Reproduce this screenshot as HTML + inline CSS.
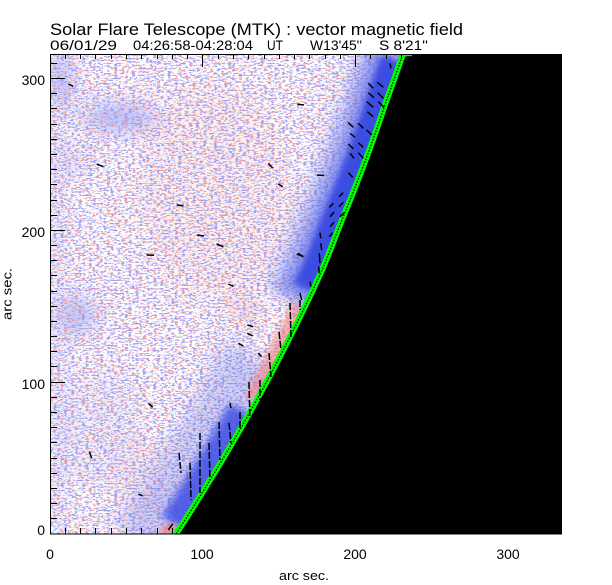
<!DOCTYPE html>
<html><head><meta charset="utf-8"><style>
html,body{margin:0;padding:0;background:#fff;}
svg{display:block;}
text{font-family:"Liberation Sans",sans-serif;fill:#000;}
</style></head><body>
<svg width="612" height="585" viewBox="0 0 612 585" xmlns="http://www.w3.org/2000/svg">
<defs>
 <clipPath id="pa"><rect x="50" y="54" width="512" height="480"/></clipPath>
 <filter id="spB" filterUnits="userSpaceOnUse" x="50" y="54" width="512" height="480" color-interpolation-filters="sRGB">
  <feTurbulence type="fractalNoise" baseFrequency="0.28 0.6" numOctaves="2" seed="11"/>
  <feColorMatrix type="matrix" values="0 0 0 0 0.61  0 0 0 0 0.63  0 0 0 0 0.96  10 0 0 0 -5.3"/>
 </filter>
 <filter id="spR" filterUnits="userSpaceOnUse" x="50" y="54" width="512" height="480" color-interpolation-filters="sRGB">
  <feTurbulence type="fractalNoise" baseFrequency="0.28 0.6" numOctaves="2" seed="29"/>
  <feColorMatrix type="matrix" values="0 0 0 0 0.96  0 0 0 0 0.62  0 0 0 0 0.62  0 10 0 0 -5.9"/>
 </filter>
 <filter id="b2" filterUnits="userSpaceOnUse" x="0" y="0" width="612" height="585"><feGaussianBlur stdDeviation="2"/></filter>
 <filter id="b3" filterUnits="userSpaceOnUse" x="0" y="0" width="612" height="585"><feGaussianBlur stdDeviation="3"/></filter>
 <filter id="b4" filterUnits="userSpaceOnUse" x="0" y="0" width="612" height="585"><feGaussianBlur stdDeviation="4"/></filter>
 <filter id="b6" filterUnits="userSpaceOnUse" x="0" y="0" width="612" height="585"><feGaussianBlur stdDeviation="6"/></filter>
 <filter id="b8" filterUnits="userSpaceOnUse" x="0" y="0" width="612" height="585"><feGaussianBlur stdDeviation="8"/></filter>
 <filter id="b10" filterUnits="userSpaceOnUse" x="0" y="0" width="612" height="585"><feGaussianBlur stdDeviation="10"/></filter>
</defs>

<g clip-path="url(#pa)">
 <rect x="50" y="54" width="512" height="480" fill="#fff"/>
 <g filter="url(#b10)">
  <rect x="50" y="54" width="14" height="480" fill="#8088f0" opacity="0.25"/>
  <ellipse cx="120" cy="118" rx="38" ry="16" fill="#6c78f0" opacity="0.45"/>
  <ellipse cx="62" cy="80" rx="14" ry="30" fill="#6c78f0" opacity="0.35"/>
  <ellipse cx="78" cy="316" rx="20" ry="20" fill="#6c78f0" opacity="0.4"/>
  <ellipse cx="78" cy="160" rx="22" ry="12" fill="#6c78f0" opacity="0.2"/>
  <ellipse cx="215" cy="190" rx="75" ry="110" fill="#f09090" opacity="0.12"/>
  <ellipse cx="245" cy="310" rx="16" ry="14" fill="#f08080" opacity="0.3"/>
  <ellipse cx="140" cy="480" rx="25" ry="45" fill="#f09090" opacity="0.12"/>
  <ellipse cx="100" cy="430" rx="40" ry="60" fill="#8088f0" opacity="0.12"/>
 </g>
 <rect x="50" y="54" width="512" height="480" fill="#fff" filter="url(#spB)"/>
 <rect x="50" y="54" width="512" height="480" fill="#fff" filter="url(#spR)"/>

 <!-- limb bands -->
 <path d="M275,366 L262.2,390 L248.9,414 L235.2,438 L221,462 L206.4,486 L191.4,510 L176,534 L160,558" fill="none" stroke="#7080ee" stroke-width="110" opacity="0.35" filter="url(#b10)"/>
 <path d="M248.9,414 L235.2,438 L221,462 L206.4,486 L191.4,510 L180,528" fill="none" stroke="#3f50e4" stroke-width="44" opacity="0.85" filter="url(#b4)"/>
 <ellipse cx="170" cy="531" rx="10" ry="7" fill="#f08080" opacity="0.7" filter="url(#b2)"/>
 <path d="M305,306 L299.4,318 L287.4,342 L275,366 L262.2,390 L256,402" fill="none" stroke="#f08888" stroke-width="26" opacity="0.65" filter="url(#b3)"/>
 <path d="M403,54 L394.6,78 L385.9,102 L377.8,126 L369.3,150 L360.3,174 L350.9,198 L341.1,222 L331.8,246 L322.1,270 L311,294 L305,306" fill="none" stroke="#7080ee" stroke-width="90" opacity="0.35" filter="url(#b8)"/>
 <path d="M403,54 L394.6,78 L385.9,102 L377.8,126 L369.3,150 L360.3,174 L350.9,198 L341.1,222 L331.8,246 L322.1,270 L311,294 L306,304" fill="none" stroke="#5a68ea" stroke-width="64" opacity="0.55" filter="url(#b6)"/>
 <path d="M400,62 L394.6,78 L385.9,102 L377.8,126 L369.3,150 L360.3,174 L350.9,198 L341.1,222 L331.8,246 L322.1,270 L312,292" fill="none" stroke="#3848e0" stroke-width="40" opacity="0.95" filter="url(#b3)"/>

 <!-- black disk-off region -->
 <path d="M403,54 L394.6,78 L385.9,102 L377.8,126 L369.3,150 L360.3,174 L350.9,198 L341.1,222 L331.8,246 L322.1,270 L311,294 L299.4,318 L287.4,342 L275,366 L262.2,390 L248.9,414 L235.2,438 L221,462 L206.4,486 L191.4,510 L176,534 L562,534 L562,54 Z" fill="#000"/>
 <!-- green limb -->
 <path d="M403,54 L394.6,78 L385.9,102 L377.8,126 L369.3,150 L360.3,174 L350.9,198 L341.1,222 L331.8,246 L322.1,270 L311,294 L299.4,318 L287.4,342 L275,366 L262.2,390 L248.9,414 L235.2,438 L221,462 L206.4,486 L191.4,510 L176,534" fill="none" stroke="#00ff00" stroke-width="6"/>
 <path d="M403,54 L394.6,78 L385.9,102 L377.8,126 L369.3,150 L360.3,174 L350.9,198 L341.1,222 L331.8,246 L322.1,270 L311,294 L299.4,318 L287.4,342 L275,366 L262.2,390 L248.9,414 L235.2,438 L221,462 L206.4,486 L191.4,510 L176,534" fill="none" stroke="#000" stroke-width="1.2" stroke-dasharray="1.5 1.5"/>
 <path d="M401,57 Q404,54.5 412,55" fill="none" stroke="#00ff00" stroke-width="2.5"/>

 <!-- vectors -->
 <g stroke="#000" stroke-width="1.5" fill="none">
  <line x1="368.3" y1="83.3" x2="373.3" y2="88.3"/>
  <line x1="377.3" y1="82.3" x2="383.3" y2="87.3"/>
  <line x1="368.3" y1="92.7" x2="374" y2="97.7"/>
  <line x1="377.7" y1="92.7" x2="383.3" y2="98.3"/>
  <line x1="366.7" y1="101.7" x2="373.3" y2="107.3"/>
  <line x1="378.3" y1="101.7" x2="384" y2="107.3"/>
  <line x1="367.3" y1="111.7" x2="373.3" y2="116.7"/>
  <line x1="348.3" y1="122.7" x2="353.3" y2="127.3"/>
  <line x1="358.3" y1="123.3" x2="363.3" y2="128.3"/>
  <line x1="366.7" y1="130" x2="371.7" y2="135"/>
  <line x1="350" y1="133.3" x2="355" y2="137.3"/>
  <line x1="358.3" y1="142.7" x2="363.3" y2="147.3"/>
  <line x1="348.3" y1="144" x2="353.3" y2="148.7"/>
  <line x1="350" y1="153.3" x2="354" y2="158.3"/>
  <line x1="358.3" y1="152.7" x2="363.3" y2="158.3"/>
  <line x1="348.3" y1="172.7" x2="352.7" y2="177.3"/>
  <line x1="317" y1="175" x2="324" y2="175.5"/>
  <line x1="339" y1="196.7" x2="343.3" y2="192.7"/>
  <line x1="329.3" y1="207.3" x2="333.3" y2="203.3"/>
  <line x1="339" y1="206.7" x2="343.3" y2="202.3"/>
  <line x1="330" y1="216.7" x2="334" y2="212.3"/>
  <line x1="340" y1="216.7" x2="344" y2="212.7"/>
  <line x1="330" y1="226.7" x2="334" y2="222.3"/>
  <line x1="329.3" y1="236.7" x2="332.7" y2="232.7"/>
  <line x1="320" y1="232.7" x2="320.7" y2="238.3"/>
  <line x1="320.7" y1="243.3" x2="321.7" y2="250"/>
  <line x1="319.3" y1="253.3" x2="320" y2="263.3"/>
  <line x1="318.7" y1="266.7" x2="319.3" y2="273.3"/>
  <line x1="310" y1="281.7" x2="311" y2="286.7"/>
  <line x1="298.3" y1="253.3" x2="303.3" y2="256.7"/>
  <line x1="300" y1="293" x2="301.7" y2="300"/>
  <line x1="390" y1="63.3" x2="391" y2="68.3"/>
  <line x1="297.3" y1="104.3" x2="304" y2="105"/>
  <line x1="68.3" y1="84" x2="73.3" y2="86.3"/>
  <line x1="96.7" y1="164" x2="103.3" y2="166.7"/>
  <line x1="268.3" y1="163.3" x2="272.7" y2="168"/>
  <line x1="278.3" y1="184" x2="282.7" y2="186.7"/>
  <line x1="176.7" y1="205" x2="183.3" y2="205.7"/>
  <line x1="197.3" y1="235" x2="204" y2="236"/>
  <line x1="216.7" y1="244" x2="223.3" y2="246.7"/>
  <line x1="146.7" y1="255" x2="154" y2="255.3"/>
  <line x1="296.7" y1="254" x2="303.3" y2="256.7"/>
  <line x1="228.3" y1="284" x2="233.3" y2="286.3"/>
  <line x1="238.3" y1="343.3" x2="243.3" y2="346"/>
  <line x1="247.3" y1="325" x2="253.3" y2="326.7"/>
  <line x1="247.3" y1="333.3" x2="252.7" y2="336"/>
  <line x1="258.3" y1="353.3" x2="261.7" y2="356.7"/>
  <line x1="230" y1="403" x2="231" y2="408"/>
  <line x1="148.3" y1="403.3" x2="152.7" y2="407.3"/>
  <line x1="89.3" y1="451.7" x2="91.7" y2="458.3"/>
  <line x1="138.3" y1="494" x2="142.7" y2="496"/>
  <line x1="168.3" y1="530" x2="172.7" y2="524"/>
 </g>
 <g stroke="#000" stroke-width="1.5" fill="none" stroke-dasharray="7 2">
  <line x1="290" y1="303" x2="291" y2="337"/>
  <line x1="300" y1="300" x2="300" y2="310"/>
  <line x1="279" y1="332" x2="281" y2="350"/>
  <line x1="269" y1="353" x2="271" y2="377"/>
  <line x1="260" y1="380" x2="260" y2="400"/>
  <line x1="249" y1="382" x2="250" y2="423"/>
  <line x1="240" y1="412" x2="240" y2="430"/>
  <line x1="229" y1="423" x2="231" y2="443"/>
  <line x1="219" y1="422" x2="220" y2="460"/>
  <line x1="209" y1="443" x2="210" y2="480"/>
  <line x1="200" y1="433" x2="200" y2="493"/>
  <line x1="190" y1="463" x2="191" y2="500"/>
  <line x1="179" y1="453" x2="181" y2="473"/>
 </g>
</g>

<!-- frame and ticks -->
<rect x="50.5" y="54.5" width="511" height="479.5" fill="none" stroke="#000" stroke-width="1"/>
<g stroke="#000" stroke-width="1" fill="none">
 <path d="M65.5,54V59M80.5,54V59M95.5,54V59M111.5,54V59M126.5,54V59M141.5,54V59M157.5,54V59M172.5,54V59M187.5,54V59M202.5,54V67M218.5,54V59M233.5,54V59M248.5,54V59M264.5,54V59M279.5,54V59M294.5,54V59M309.5,54V59M325.5,54V59M340.5,54V59M355.5,54V67M370.5,54V59M386.5,54V59M401.5,54V59"/>
 <path d="M65.5,534V528M80.5,534V528M95.5,534V528M111.5,534V528M126.5,534V528M141.5,534V528M157.5,534V528M172.5,534V528"/>
 <path d="M50,518.5H57M50,503.5H57M50,488.5H57M50,473.5H57M50,458.5H57M50,442.5H57M50,427.5H57M50,412.5H57M50,397.5H57M50,382.5H65M50,366.5H57M50,351.5H57M50,336.5H57M50,321.5H57M50,306.5H57M50,291.5H57M50,275.5H57M50,260.5H57M50,245.5H57M50,230.5H65M50,215.5H57M50,200.5H57M50,184.5H57M50,169.5H57M50,154.5H57M50,139.5H57M50,124.5H57M50,108.5H57M50,93.5H57M50,78.5H65M50,63.5H57"/>
</g>

<!-- titles -->
<text x="50" y="35" font-size="16.5" textLength="413" lengthAdjust="spacingAndGlyphs">Solar Flare Telescope (MTK) : vector magnetic field</text>
<text x="50" y="50" font-size="14" textLength="67" lengthAdjust="spacingAndGlyphs">06/01/29</text>
<text x="133" y="50" font-size="14" textLength="120" lengthAdjust="spacingAndGlyphs">04:26:58-04:28:04</text>
<text x="267" y="50" font-size="14" textLength="16" lengthAdjust="spacingAndGlyphs">UT</text>
<text x="310" y="50" font-size="14" textLength="52" lengthAdjust="spacingAndGlyphs">W13'45''</text>
<text x="379" y="50" font-size="14" textLength="49" lengthAdjust="spacingAndGlyphs">S 8'21''</text>

<!-- y labels -->
<text x="45" y="85" font-size="14" text-anchor="end">300</text>
<text x="45" y="237" font-size="14" text-anchor="end">200</text>
<text x="45" y="389" font-size="14" text-anchor="end">100</text>
<text x="45" y="535" font-size="14" text-anchor="end">0</text>
<!-- x labels -->
<text x="50" y="559" font-size="14" text-anchor="middle">0</text>
<text x="202" y="559" font-size="14" text-anchor="middle">100</text>
<text x="355" y="559" font-size="14" text-anchor="middle">200</text>
<text x="508" y="559" font-size="14" text-anchor="middle">300</text>
<!-- axis titles -->
<text x="304" y="580" font-size="13" text-anchor="middle" textLength="50" lengthAdjust="spacingAndGlyphs">arc sec.</text>
<text transform="translate(11.5,294) rotate(-90)" font-size="13" text-anchor="middle" textLength="52" lengthAdjust="spacingAndGlyphs">arc sec.</text>
</svg>
</body></html>
